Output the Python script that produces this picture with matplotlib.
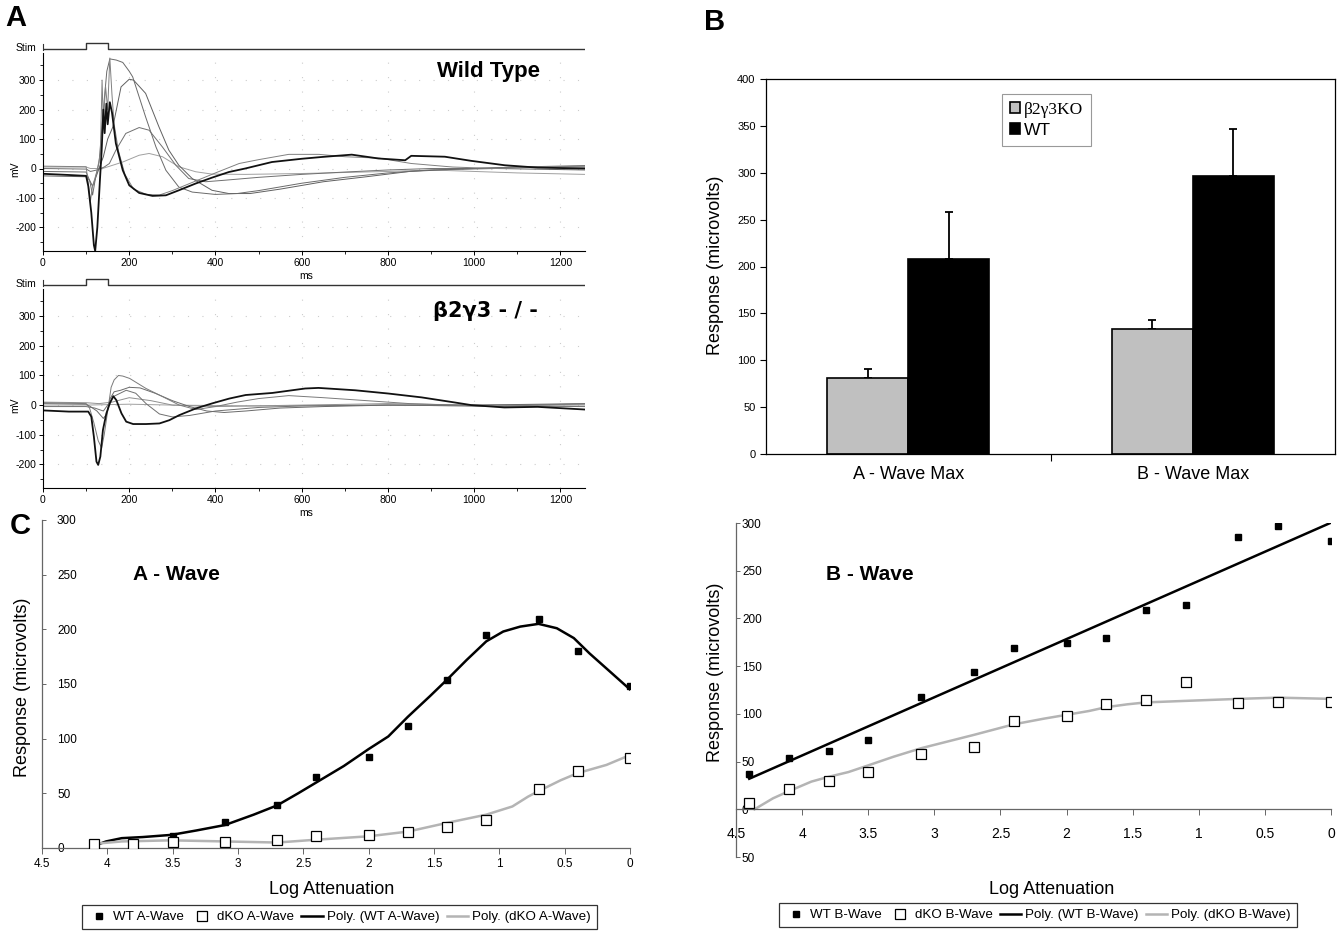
import numpy as np
import matplotlib
matplotlib.use("Agg")
import matplotlib.pyplot as plt
from matplotlib.lines import Line2D
from matplotlib.ticker import MultipleLocator

plt.rcParams['font.family'] = ['Liberation Sans', 'DejaVu Sans']
plt.rcParams['axes.unicode_minus'] = False

W, H = 1339, 931

# ---------------- panel A : ERG traces (ms, mV)
stim_ms = [0, 100, 100, 150, 150, 1257]
stim_on = [0, 0, 1, 1, 0, 0]

wt_t1_ms = [0, 100, 110, 138, 185, 223, 246, 277, 315, 354, 392, 469, 600, 800, 900, 1000, 1100, 1257]
wt_t1_mv = [5, 5, 0, 0, 22, 45, 51, 40, 6, -11, -19, -20, -17, -10, -5, -10, -15, -20]
wt_t2_ms = [0, 100, 110, 125, 142, 154, 169, 192, 223, 246, 277, 308, 338, 377, 420, 500, 600, 700, 800, 900, 1000, 1100, 1257]
wt_t2_mv = [0, -2, -10, -5, 5, 17, 62, 119, 139, 130, 73, 11, -34, -45, -40, -30, -20, -12, -5, 0, 0, 5, 5]
wt_t3_ms = [0, 100, 108, 115, 125, 140, 150, 162, 181, 200, 210, 238, 269, 292, 315, 346, 392, 431, 480, 550, 650, 750, 850, 950, 1050, 1257]
wt_t3_mv = [-25, -28, -40, -60, -20, 40, 100, 141, 277, 303, 300, 255, 141, 62, 11, -34, -74, -85, -85, -70, -45, -28, -10, -3, 0, -5]
wt_t4_ms = [0, 100, 108, 115, 122, 130, 140, 148, 155, 170, 185, 200, 208, 238, 262, 285, 315, 346, 400, 450, 500, 600, 700, 800, 900, 1000, 1100, 1257]
wt_t4_mv = [-10, -12, -40, -90, -30, 20, 200, 330, 372, 368, 360, 330, 311, 175, 73, -6, -63, -80, -88, -85, -75, -50, -30, -15, -5, 0, 5, 10]
wt_t5_ms = [0, 100, 104, 110, 115, 125, 133, 137, 140, 145, 150, 155, 160, 165, 175, 190, 210, 240, 270, 300, 350, 400, 455, 500, 570, 640, 700, 780, 854, 950, 1050, 1150, 1257]
wt_t5_mv = [8, 6, -40, -110, -60, -10, 50, 300, 150, 280, 200, 375, 250, 150, 60, -20, -70, -88, -90, -75, -45, -15, 17, 30, 48, 48, 40, 35, 17, 5, 0, 5, 8]
wt_t6_ms = [0, 60, 100, 105, 112, 118, 121, 126, 132, 136, 140, 143, 147, 150, 155, 160, 169, 185, 200, 223, 254, 285, 315, 354, 392, 431, 469, 531, 600, 646, 716, 778, 840, 854, 932, 993, 1071, 1147, 1257]
wt_t6_mv = [-18, -22, -25, -60, -150, -260, -280, -200, -40, 60, 200, 120, 220, 150, 225, 190, 85, -6, -57, -83, -93, -91, -74, -51, -31, -12, 0, 22, 33, 39, 47, 34, 28, 43, 40, 26, 11, 3, 0]

ko_t1_ms = [0, 100, 200, 300, 500, 800, 1000, 1257]
ko_t1_mv = [0, 0, 3, 0, -3, 0, -3, 0]
ko_t2_ms = [0, 100, 130, 160, 200, 250, 300, 400, 600, 800, 1000, 1257]
ko_t2_mv = [10, 8, 5, 10, 25, 15, 0, -5, 0, 5, 0, 3]
ko_t3_ms = [0, 100, 120, 140, 150, 165, 193, 215, 239, 270, 300, 340, 400, 500, 600, 800, 1000, 1257]
ko_t3_mv = [-5, -5, -10, -20, 0, 30, 50, 40, 5, -30, -40, -35, -20, -8, -3, 0, -3, -5]
ko_t4_ms = [0, 100, 110, 125, 140, 148, 155, 165, 180, 200, 225, 260, 300, 340, 380, 420, 470, 550, 650, 800, 1000, 1257]
ko_t4_mv = [5, 3, -5, -20, -45, -30, 20, 45, 50, 60, 58, 40, 15, -5, -20, -25, -20, -10, -5, 0, 0, 5]
ko_t5_ms = [0, 100, 108, 118, 128, 136, 142, 150, 158, 165, 175, 185, 201, 239, 278, 316, 355, 400, 450, 500, 570, 650, 750, 850, 950, 1050, 1150, 1257]
ko_t5_mv = [8, 5, -10, -60, -120, -145, -100, -20, 60, 85, 100, 98, 90, 56, 28, 0, -15, -5, 10, 22, 32, 25, 15, 5, 0, -5, 0, 5]
ko_t6_ms = [0, 60, 105, 112, 118, 124, 128, 133, 139, 147, 155, 163, 170, 182, 193, 209, 239, 270, 293, 316, 355, 393, 432, 470, 532, 608, 639, 724, 801, 878, 954, 993, 1070, 1147, 1257]
ko_t6_mv = [-18, -22, -22, -39, -107, -191, -202, -174, -84, -28, 6, 30, 17, -28, -56, -64, -64, -62, -51, -34, -11, 6, 22, 34, 41, 56, 58, 50, 39, 26, 9, 0, -8, -6, -15]

# ---------------- panel B : maxima
groups = ['A - Wave Max', 'B - Wave Max']
ko_mean = [81, 133]
ko_err = [10, 10]
wt_mean = [208, 297]
wt_err = [50, 50]

# ---------------- panel C : A-wave vs log attenuation
a_x_wt = [4.1, 3.5, 3.1, 2.7, 2.4, 2.0, 1.7, 1.4, 1.1, 0.7, 0.4, 0.0]
a_wt = [2, 11, 24, 39, 65, 83, 112, 154, 195, 209, 180, 148]
a_x_ko = [4.1, 3.8, 3.5, 3.1, 2.7, 2.4, 2.0, 1.7, 1.4, 1.1, 0.7, 0.4, 0.0]
a_ko = [4, 4, 5.5, 5.5, 7, 11, 11.5, 15, 19, 26, 54, 70, 82]
# polynomial trend lines as drawn in the picture
a_fit_wt_x = [4.11, 4.01, 3.89, 3.73, 3.51, 3.32, 3.10, 2.88, 2.70, 2.54, 2.40, 2.19, 2.00, 1.85,
              1.70, 1.53, 1.40, 1.25, 1.10, 0.97, 0.84, 0.70, 0.56, 0.43, 0.31, 0.15, 0.0]
a_fit_wt = [1.5, 6, 9, 10, 12, 16, 21, 30.5, 39, 50, 60, 75, 90.5, 102,
            120, 139, 154, 172, 189, 198, 202.5, 205, 201, 192, 178, 161, 145]
a_fit_ko_x = [4.11, 3.89, 3.51, 3.10, 2.70, 2.40, 2.00, 1.70, 1.40, 1.10, 0.90, 0.78, 0.70,
              0.53, 0.40, 0.18, 0.0]
a_fit_ko = [3.7, 6, 7, 6, 5, 7.6, 10.7, 15, 23, 30.5, 38, 47, 52, 62, 68.5, 76, 85]

# ---------------- panel D : B-wave vs log attenuation
b_x = [4.4, 4.1, 3.8, 3.5, 3.1, 2.7, 2.4, 2.0, 1.7, 1.4, 1.1, 0.7, 0.4, 0.0]
b_wt = [37, 54, 61, 73, 118, 144, 169, 174, 180, 209, 214, 285, 297, 281]
b_ko = [7, 21, 30, 39, 58, 65, 93, 98, 110, 115, 133, 111, 112, 112]
b_fit_ko_x = [4.36, 4.22, 4.10, 3.93, 3.80, 3.65, 3.50, 3.31, 3.10, 2.90, 2.70, 2.40, 2.17, 2.00,
              1.83, 1.70, 1.54, 1.40, 1.10, 0.70, 0.40, 0.0]
b_fit_ko = [0, 11.5, 19, 29, 34, 39, 46, 55, 64, 71, 78, 89, 95, 99,
            103, 107, 110, 112, 113.6, 115.7, 117, 115.7]

att_ticks = [4.5, 4, 3.5, 3, 2.5, 2, 1.5, 1, 0.5, 0]
att_labels = ['4.5', '4', '3.5', '3', '2.5', '2', '1.5', '1', '0.5', '0']

fig = plt.figure(figsize=(W / 100, H / 100), dpi=100)


def px_axes(l, t, r, b):
    return fig.add_axes([l / W, 1 - b / H, (r - l) / W, (b - t) / H])


def px_text(x, y, s, **kw):
    fig.text(x / W, 1 - y / H, s, ha='center', va='center', **kw)


def stim_axes(top):
    ax = px_axes(43, top, 585, top + 12)
    ax.patch.set_visible(False)
    ax.plot(stim_ms, stim_on, color='#333333', lw=1)
    ax.set_xlim(0, 1257)
    ax.set_ylim(-0.5, 1.5)
    ax.set_xticks([])
    ax.set_yticks([])
    for s in ['top', 'right', 'bottom']:
        ax.spines[s].set_visible(False)
    ax.spines['left'].set_bounds(-0.1, 0.9)
    ax.spines['left'].set_color('#333333')
    ax.text(-0.012, 0.2, 'Stim', transform=ax.get_yaxis_transform(),
            ha='right', va='center', fontsize=7.5)


def trace_axes(top, bottom, traces):
    ax = px_axes(43, top, 585, bottom)
    for t, v, c, lw in traces:
        ax.plot(t, v, color=c, lw=lw)
    ax.set_xlim(0, 1257)
    ax.set_ylim(-280, 392)
    ax.xaxis.set_major_locator(MultipleLocator(200))
    ax.xaxis.set_minor_locator(MultipleLocator(100))
    ax.yaxis.set_major_locator(MultipleLocator(100))
    ax.yaxis.set_minor_locator(MultipleLocator(50))
    ax.grid(True, which='major', color='#cccccc', linestyle=(0, (1, 12)), lw=0.8)
    ax.spines['top'].set_visible(False)
    ax.spines['right'].set_visible(False)
    ax.tick_params(labelsize=7.5, length=3, width=0.7, pad=2)
    ax.tick_params(which='minor', length=2, width=0.6)
    ax.set_xlabel('ms', fontsize=7.5)
    ax.xaxis.set_label_coords(0.485, -0.126)
    ax.xaxis.label.set_va('center')
    ax.set_ylabel('mV', fontsize=7.5)
    ax.yaxis.set_label_coords(-0.052, 0.415)
    ax.yaxis.label.set_va('center')
    return ax


# ---- A top (wild type)
stim_axes(40)
trace_axes(53, 251, [
    (wt_t1_ms, wt_t1_mv, '#a0a0a0', 0.7),
    (wt_t2_ms, wt_t2_mv, '#707070', 0.7),
    (wt_t3_ms, wt_t3_mv, '#606060', 0.7),
    (wt_t4_ms, wt_t4_mv, '#6a6a6a', 0.7),
    (wt_t5_ms, wt_t5_mv, '#808080', 0.7),
    (wt_t6_ms, wt_t6_mv, '#111111', 1.3),
])
px_text(489, 72, 'Wild Type', fontsize=16, fontweight='bold')

# ---- A bottom (knockout)
stim_axes(276)
trace_axes(289, 488, [
    (ko_t1_ms, ko_t1_mv, '#a0a0a0', 0.7),
    (ko_t2_ms, ko_t2_mv, '#909090', 0.7),
    (ko_t3_ms, ko_t3_mv, '#707070', 0.7),
    (ko_t4_ms, ko_t4_mv, '#6a6a6a', 0.7),
    (ko_t5_ms, ko_t5_mv, '#7a7a7a', 0.7),
    (ko_t6_ms, ko_t6_mv, '#111111', 1.3),
])
px_text(485, 311, 'β2γ3 - / -', fontsize=15, fontweight='bold', family=['DejaVu Sans'])

# ---- B bar chart
axb = px_axes(766, 79, 1335, 454)
xg = np.arange(len(groups))
bw = 0.285
axb.errorbar(xg - bw / 2, ko_mean, yerr=[np.zeros(len(ko_err)), ko_err], fmt='none',
             ecolor='black', elinewidth=1.3, capsize=3, capthick=1.3, zorder=1)
axb.errorbar(xg + bw / 2, wt_mean, yerr=[np.zeros(len(wt_err)), wt_err], fmt='none',
             ecolor='black', elinewidth=1.3, capsize=3, capthick=1.3, zorder=1)
axb.bar(xg - bw / 2, ko_mean, bw, color='#c0c0c0', edgecolor='black', lw=1.2,
        label='β2γ3KO', zorder=2)
axb.bar(xg + bw / 2, wt_mean, bw, color='black', edgecolor='black', lw=1.2,
        label='WT', zorder=2)
axb.set_xlim(-0.5, 1.5)
axb.set_ylim(0, 400)
axb.yaxis.set_major_locator(MultipleLocator(50))
axb.set_xticks(xg, groups, fontsize=13)
axb.set_xticks([0.5], minor=True)
axb.tick_params(axis='x', which='major', length=0, pad=9)
axb.tick_params(axis='x', which='minor', length=5, width=0.8)
axb.tick_params(axis='y', labelsize=8, length=4, width=0.8)
for s in axb.spines.values():
    s.set_linewidth(0.9)
axb.set_ylabel('Response (microvolts)', fontsize=13)
axb.yaxis.set_label_coords(-0.088, 0.504)
axb.yaxis.label.set_va('center')
leg = axb.legend(loc='upper left', bbox_to_anchor=(0.415, 0.96), fontsize=12.5,
                 fancybox=False, edgecolor='#808080', handlelength=0.6,
                 handleheight=0.6, handletextpad=0.2, borderpad=0.45,
                 labelspacing=0.3, borderaxespad=0)
leg.get_texts()[0].set_family('Liberation Serif')
leg.get_frame().set_linewidth(0.8)


def attenuation_axes(l, t, r, b, ymin, ytick_labels, xpad, ypad):
    ax = px_axes(l, t, r, b)
    ax.set_xlim(4.5, 0)
    ax.set_ylim(ymin, 300)
    ax.spines['top'].set_visible(False)
    ax.spines['right'].set_visible(False)
    for s in ['left', 'bottom']:
        ax.spines[s].set_linewidth(0.9)
        ax.spines[s].set_color('#666666')
    ax.set_xticks(att_ticks, att_labels, fontsize=8.5)
    ax.set_yticks(np.arange(ymin, 301, 50), ytick_labels, fontsize=8.5, ha='left')
    ax.tick_params(axis='x', length=4, width=0.7, color='#666666', pad=xpad)
    ax.tick_params(axis='y', direction='in', length=3, width=0.7, color='#666666', pad=ypad)
    return ax


wt_kw = dict(marker='s', ls='none', ms=5, mfc='black', mec='black', zorder=3)
ko_kw = dict(marker='s', ls='none', ms=6.5, mfc='white', mec='black', mew=0.9, zorder=3)

# ---- C : A-wave
axc = attenuation_axes(42, 520, 630, 848, 0, [str(v) for v in range(0, 301, 50)], 3, -10.8)
axc.plot(a_fit_wt_x, a_fit_wt, color='black', lw=1.8, zorder=2)
axc.plot(a_fit_ko_x, a_fit_ko, color='#b4b4b4', lw=1.8, zorder=2)
axc.plot(a_x_wt, a_wt, **wt_kw)
axc.plot(a_x_ko, a_ko, **ko_kw)
axc.set_xlabel('Log Attenuation', fontsize=13)
axc.xaxis.set_label_coords(0.493, -0.125)
axc.xaxis.label.set_va('center')
axc.set_ylabel('Response (microvolts)', fontsize=13)
axc.yaxis.set_label_coords(-0.034, 0.49)
axc.yaxis.label.set_va('center')
px_text(176, 575, 'A - Wave', fontsize=15, fontweight='bold')

# ---- D : B-wave
axd = attenuation_axes(736, 523, 1331, 857, -50,
                       ['50'] + [str(v) for v in range(0, 301, 50)], 9, -4.3)
axd.spines['bottom'].set_position(('data', 0))
xs = np.linspace(max(b_x), min(b_x), 100)
axd.plot(xs, np.polyval(np.polyfit(b_x, b_wt, 1), xs), color='black', lw=1.8, zorder=2)
axd.plot(b_fit_ko_x, b_fit_ko, color='#b4b4b4', lw=1.8, zorder=2)
axd.plot(b_x, b_wt, **wt_kw)
axd.plot(b_x, b_ko, **ko_kw)
axd.set_xlabel('Log Attenuation', fontsize=13)
axd.xaxis.set_label_coords(0.531, -0.096)
axd.xaxis.label.set_va('center')
axd.set_ylabel('Response (microvolts)', fontsize=13)
axd.yaxis.set_label_coords(-0.035, 0.554)
axd.yaxis.label.set_va('center')
px_text(870, 575, 'B - Wave', fontsize=15, fontweight='bold')


def bottom_legend(x0, y0, wave):
    handles = [
        Line2D([], [], **wt_kw),
        Line2D([], [], **ko_kw),
        Line2D([], [], color='black', lw=1.8),
        Line2D([], [], color='#b4b4b4', lw=1.8),
    ]
    labels = ['WT %s' % wave, 'dKO %s' % wave, 'Poly. (WT %s)' % wave, 'Poly. (dKO %s)' % wave]
    lg = fig.legend(handles, labels, loc='upper left', bbox_to_anchor=(x0 / W, 1 - y0 / H),
                    ncol=4, fontsize=9.6, fancybox=False, edgecolor='black',
                    handlelength=1.6, handletextpad=0.3, columnspacing=0.55,
                    borderpad=0.45, borderaxespad=0)
    lg.get_frame().set_linewidth(0.9)


bottom_legend(82, 905, 'A-Wave')
bottom_legend(779, 903, 'B-Wave')

# panel letters
px_text(16, 18, 'A', fontsize=21, fontweight='bold')
px_text(715, 22, 'B', fontsize=21, fontweight='bold')
px_text(20, 526, 'C', fontsize=21, fontweight='bold')

fig.savefig('out.png', dpi=100)
